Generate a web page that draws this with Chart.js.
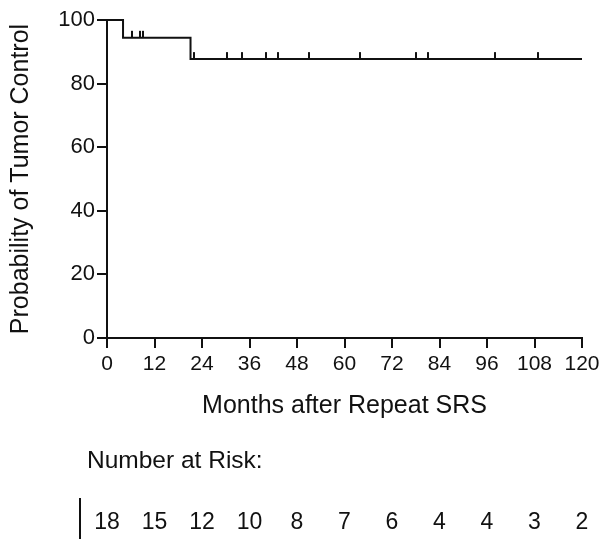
<!DOCTYPE html>
<html>
<head>
<meta charset="utf-8">
<script src="https://cdn.jsdelivr.net/npm/chart.js@4"></script>
<style>
  html, body { margin: 0; padding: 0; background: #fff; }
  #wrap { width: 604px; height: 539px; position: relative; }
</style>
</head>
<body>
<div id="wrap"><canvas id="kmChart"></canvas></div>
<script>
// Kaplan-Meier step points (months, % tumor control)
const eventMonths = [0, 4.05, 21.1, 120];
const controlPct = [100, 94.4, 87.7, 87.7];

// censored patients (tick marks on the curve)
const censorMonths = [6.2, 8.3, 9.1, 22.0, 30.2, 34.1, 40.1, 43.1, 51.1, 64.0, 78.0, 81.0, 98.1, 109.0];
const censorPct = [94.4, 94.4, 94.4, 87.7, 87.7, 87.7, 87.7, 87.7, 87.7, 87.7, 87.7, 87.7, 87.7, 87.7];

// number at risk table
const riskMonths = [0, 12, 24, 36, 48, 60, 72, 84, 96, 108, 120];
const numberAtRisk = [18, 15, 12, 10, 8, 7, 6, 4, 4, 3, 2];

const FONT = '"Liberation Sans", Arial, Helvetica, sans-serif';
const INK = "#111111";

// vertical censor mark sitting on top of the line
const censorMark = document.createElement("canvas");
censorMark.width = 2;
censorMark.height = 16;
const cm = censorMark.getContext("2d");
cm.fillStyle = INK;
cm.fillRect(0, 1, 2, 7);

const riskTable = {
  id: "riskTable",
  afterDraw(chart) {
    const ctx = chart.ctx;
    const xs = chart.scales.x;
    ctx.save();
    ctx.fillStyle = INK;
    ctx.font = "24.5px " + FONT;
    ctx.textAlign = "left";
    ctx.textBaseline = "alphabetic";
    ctx.fillText("Number at Risk:", 87, 468);
    ctx.strokeStyle = INK;
    ctx.lineWidth = 2;
    ctx.beginPath();
    ctx.moveTo(80, 498);
    ctx.lineTo(80, 539);
    ctx.stroke();
    ctx.font = "23px " + FONT;
    ctx.textAlign = "center";
    riskMonths.forEach((m, i) => {
      ctx.fillText(String(numberAtRisk[i]), xs.getPixelForValue(m), 529);
    });
    ctx.restore();
  }
};

const ctx = document.getElementById("kmChart").getContext("2d");
const myChart = new Chart(ctx, {
  type: "scatter",
  data: {
    datasets: [
      {
        label: "Tumor control",
        data: eventMonths.map((m, i) => ({ x: m, y: controlPct[i] })),
        showLine: true,
        stepped: "before",
        borderColor: INK,
        borderWidth: 2,
        pointRadius: 0,
        clip: false
      },
      {
        label: "Censored",
        data: censorMonths.map((m, i) => ({ x: m, y: censorPct[i] })),
        showLine: false,
        pointStyle: censorMark,
        pointRadius: 8,
        clip: false
      }
    ]
  },
  options: {
    responsive: true,
    maintainAspectRatio: false,
    animation: false,
    layout: { padding: { top: 20, left: 0, right: 22, bottom: 118 } },
    plugins: {
      legend: { display: false },
      tooltip: { enabled: false }
    },
    scales: {
      x: {
        type: "linear",
        min: 0,
        max: 120,
        afterFit: (scale) => { scale.height = 83; },
        ticks: { stepSize: 12, color: INK, padding: 4, font: { size: 21, family: FONT } },
        grid: { drawOnChartArea: false, drawTicks: true, tickLength: 10, color: INK, lineWidth: 2 },
        border: { display: true, color: INK, width: 2 },
        title: {
          display: true,
          text: "Months after Repeat SRS",
          color: INK,
          padding: 0,
          font: { size: 25, family: FONT }
        }
      },
      y: {
        min: 0,
        max: 100,
        afterFit: (scale) => { scale.width = 107; },
        ticks: { stepSize: 20, color: INK, padding: 2, font: { size: 22, family: FONT } },
        grid: { drawOnChartArea: false, drawTicks: true, tickLength: 10, color: INK, lineWidth: 2 },
        border: { display: true, color: INK, width: 2 },
        title: {
          display: true,
          text: "Probability of Tumor Control",
          color: INK,
          padding: { top: 6, bottom: 0 },
          font: { size: 25, family: FONT }
        }
      }
    }
  },
  plugins: [riskTable]
});
</script>
</body>
</html>
